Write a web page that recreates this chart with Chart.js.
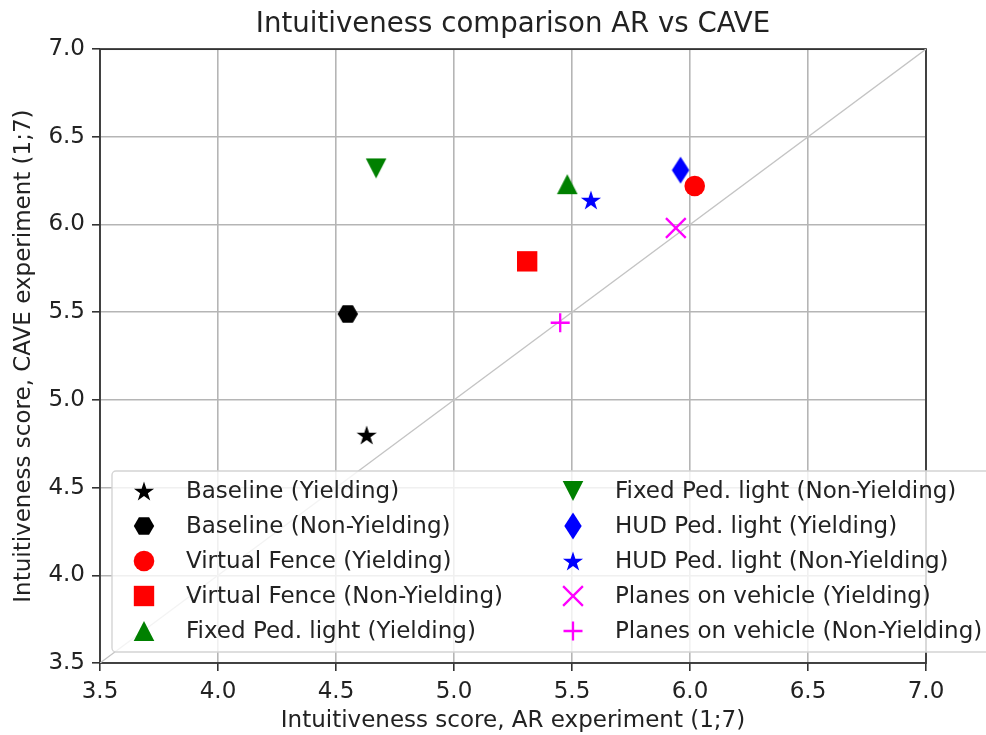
<!DOCTYPE html>
<html>
<head>
<meta charset="utf-8">
<script src="https://cdn.jsdelivr.net/npm/chart.js@4.4.1/dist/chart.umd.min.js"></script>
<style>
  html, body { margin: 0; padding: 0; background: #fff; }
  #wrap { width: 986px; height: 735px; }
</style>
</head>
<body>
<div id="wrap"><canvas id="myChart" width="986" height="735"></canvas></div>
<script>
// --- data ---
const categories = [
  'Baseline (Yielding)',
  'Baseline (Non-Yielding)',
  'Virtual Fence (Yielding)',
  'Virtual Fence (Non-Yielding)',
  'Fixed Ped. light (Yielding)',
  'Fixed Ped. light (Non-Yielding)',
  'HUD Ped. light (Yielding)',
  'HUD Ped. light (Non-Yielding)',
  'Planes on vehicle (Yielding)',
  'Planes on vehicle (Non-Yielding)'
];
const arScores   = [4.63, 4.55, 6.02, 5.31, 5.48, 4.67, 5.96, 5.58, 5.94, 5.45];
const caveScores = [4.80, 5.49, 6.22, 5.79, 6.23, 6.32, 6.31, 6.14, 5.98, 5.44];
const markerColors = ['#000000', '#000000', '#ff0000', '#ff0000', '#008000',
                      '#008000', '#0000ff', '#0000ff', '#ff00ff', '#ff00ff'];
const markerShapes = ['star', 'hexagon', 'circle', 'square', 'triUp',
                      'triDown', 'diamond', 'star', 'x', 'plus'];
const tickValues = [3.5, 4.0, 4.5, 5.0, 5.5, 6.0, 6.5, 7.0];
const diagonal = [3.5, 7.0];

const FONT = "'DejaVu Sans', sans-serif";
const TEXT = '#222222';

// small canvases for marker shapes chart.js does not have
function shapeCanvas(w, h, color, drawPath) {
  const c = document.createElement('canvas');
  c.width = w; c.height = h;
  const g = c.getContext('2d');
  g.fillStyle = color;
  g.beginPath();
  drawPath(g, w / 2, h / 2);
  g.closePath();
  g.fill();
  return c;
}

function makeMarker(shape, color) {
  if (shape === 'circle') return { style: 'circle', radius: 10.3, border: 0 };
  if (shape === 'square') return { style: 'rect', radius: 14.4, border: 0 };
  if (shape === 'x') return { style: 'crossRot', radius: 14, border: 2.3 };
  if (shape === 'plus') return { style: 'cross', radius: 9.5, border: 2.3 };
  let img;
  if (shape === 'star') {
    img = shapeCanvas(24, 24, color, (g, cx, cy) => {
      const R = 10.6, r = R * 0.382;
      for (let i = 0; i < 10; i++) {
        const a = -Math.PI / 2 + i * Math.PI / 5;
        const rr = i % 2 === 0 ? R : r;
        const px = cx + rr * Math.cos(a), py = cy + 1 + rr * Math.sin(a);
        if (i === 0) g.moveTo(px, py); else g.lineTo(px, py);
      }
    });
  } else if (shape === 'hexagon') {
    img = shapeCanvas(24, 22, color, (g, cx, cy) => {
      const R = 10.2;
      for (let i = 0; i < 6; i++) {
        const a = i * Math.PI / 3;
        const px = cx + R * Math.cos(a), py = cy + R * Math.sin(a);
        if (i === 0) g.moveTo(px, py); else g.lineTo(px, py);
      }
    });
  } else if (shape === 'triUp') {
    img = shapeCanvas(22, 22, color, (g, cx, cy) => {
      g.moveTo(cx, cy - 10); g.lineTo(cx + 10.3, cy + 10); g.lineTo(cx - 10.3, cy + 10);
    });
  } else if (shape === 'triDown') {
    img = shapeCanvas(22, 22, color, (g, cx, cy) => {
      g.moveTo(cx, cy + 10); g.lineTo(cx + 10.3, cy - 10); g.lineTo(cx - 10.3, cy - 10);
    });
  } else if (shape === 'diamond') {
    img = shapeCanvas(20, 28, color, (g, cx, cy) => {
      g.moveTo(cx, cy - 13.5); g.lineTo(cx + 8.7, cy); g.lineTo(cx, cy + 13.5); g.lineTo(cx - 8.7, cy);
    });
  }
  return { style: img, radius: 11, border: 0 };
}

const markers = markerShapes.map((s, i) => makeMarker(s, markerColors[i]));

const datasets = categories.map((name, i) => ({
  label: name,
  data: [{ x: arScores[i], y: caveScores[i] }],
  pointStyle: markers[i].style,
  pointRadius: markers[i].radius,
  pointHoverRadius: markers[i].radius,
  backgroundColor: markerColors[i],
  borderColor: markerColors[i],
  pointBorderWidth: markers[i].border,
  showLine: false
}));

// diagonal reference line, last so it is drawn underneath
datasets.push({
  label: 'diagonal',
  data: diagonal.map(v => ({ x: v, y: v })),
  showLine: true,
  borderColor: '#c4c4c4',
  borderWidth: 1.3,
  pointRadius: 0,
  fill: false
});

// frame round the plot (matplotlib spines)
const framePlugin = {
  id: 'frame',
  beforeDatasetsDraw(chart) {
    const { ctx, chartArea: a } = chart;
    ctx.save();
    ctx.strokeStyle = '#333';
    ctx.lineWidth = 1.8;
    ctx.strokeRect(a.left, a.top, a.right - a.left, a.bottom - a.top);
    ctx.restore();
  }
};

// legend box in the lower part of the plot, two columns
const legendPlugin = {
  id: 'boxLegend',
  afterDatasetsDraw(chart) {
    const { ctx, chartArea: a } = chart;
    const left = a.left + 12, bottom = a.bottom - 11, h = 181;
    const top = bottom - h;
    ctx.save();
    ctx.beginPath();
    ctx.roundRect(left, top, 1000 - left, h, 4);
    ctx.fillStyle = 'rgba(255,255,255,0.8)';
    ctx.fill();
    ctx.strokeStyle = '#d4d4d4';
    ctx.lineWidth = 1.4;
    ctx.stroke();

    ctx.font = '23px ' + FONT;
    ctx.textBaseline = 'middle';
    const cols = [left + 32, left + 461];
    categories.forEach((name, i) => {
      const col = Math.floor(i / 5), row = i % 5;
      const mx = cols[col], my = top + 20 + row * 35;
      const m = markers[i];
      if (m.style instanceof HTMLCanvasElement) {
        ctx.drawImage(m.style, mx - m.style.width / 2, my - m.style.height / 2);
      } else {
        ctx.fillStyle = markerColors[i];
        ctx.strokeStyle = markerColors[i];
        ctx.lineWidth = m.border;
        Chart.helpers.drawPoint(ctx, { pointStyle: m.style, radius: m.radius, borderWidth: m.border, rotation: 0 }, mx, my);
      }
      ctx.fillStyle = TEXT;
      ctx.fillText(name, mx + 42, my + 1);
    });
    ctx.restore();
  }
};

function axis(titleText, isX) {
  return {
    type: 'linear',
    min: tickValues[0],
    max: tickValues[tickValues.length - 1],
    afterBuildTicks: s => { s.ticks = tickValues.map(v => ({ value: v })); },
    afterFit: s => { if (isX) s.height = 72; else s.width = 100; },
    ticks: {
      callback: v => Number(v).toFixed(1),
      font: { family: FONT, size: 23 },
      color: TEXT,
      padding: 7
    },
    grid: {
      color: '#b5b5b5',
      lineWidth: 1.6,
      tickLength: 8,
      tickColor: '#333',
      tickWidth: 1.6
    },
    border: { display: false },
    title: {
      display: true,
      text: titleText,
      font: { family: FONT, size: 23 },
      color: TEXT,
      padding: isX ? { top: 0, bottom: 0 } : { top: 10, bottom: 0 }
    }
  };
}

const myChart = new Chart(document.getElementById('myChart').getContext('2d'), {
  type: 'scatter',
  data: { datasets: datasets },
  options: {
    responsive: false,
    animation: false,
    layout: { padding: { left: 0, right: 60, top: 0, bottom: 0 } },
    plugins: {
      legend: { display: false },
      tooltip: { enabled: false },
      title: {
        display: true,
        fullSize: false, // centre over the plot area, not the whole canvas
        text: 'Intuitiveness comparison AR vs CAVE',
        font: { family: FONT, size: 27.6, weight: 'normal', lineHeight: 1.2 },
        color: TEXT,
        padding: { top: 8, bottom: 8 }
      }
    },
    scales: {
      x: axis('Intuitiveness score, AR experiment (1;7)', true),
      y: axis('Intuitiveness score, CAVE experiment (1;7)', false)
    }
  },
  plugins: [framePlugin, legendPlugin]
});
</script>
</body>
</html>
